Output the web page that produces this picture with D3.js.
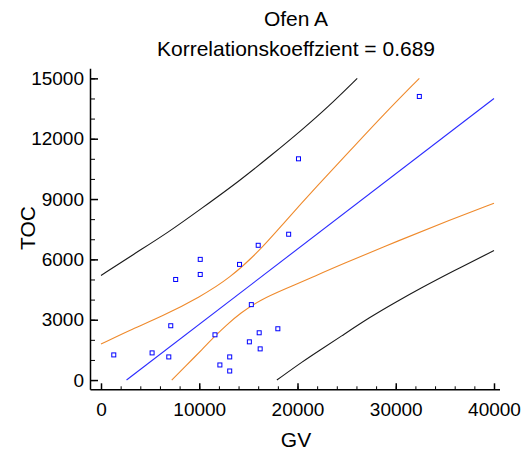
<!DOCTYPE html>
<html>
<head>
<meta charset="utf-8">
<script src="https://cdn.jsdelivr.net/npm/d3@7"></script>
<style>
  body { margin: 0; background: #fff; }
  svg { font-family: "Liberation Sans", Arial, sans-serif; }
  .axis path, .axis line { stroke: #000; }
  .axis text { font-size: 19px; fill: #000; }
</style>
</head>
<body>
<svg width="529" height="454"></svg>
<script>
// Messpunkte (GV, TOC)
var gv  = [1300, 5200, 6900, 7100, 7600, 10100, 10100, 11600, 12100, 13100, 13100,
           14100, 15100, 15300, 16000, 16100, 16200, 18000, 19100, 20100, 32400];
var toc = [1250, 1350, 1150, 2700, 5000, 6000, 5250, 2250, 750, 1150, 450,
           5750, 1900, 3750, 6700, 2350, 1550, 2550, 7250, 11000, 14100];

// Regressionsgerade
var fitLine = [[2600, 0], [40000, 14000]];

// Vertrauensbereich (orange)
var confUpper = [[0, 1790], [3300, 2570], [6000, 3110], [10100, 4140], [13100, 5060],
                 [16200, 6460], [18550, 7780], [21950, 9630], [25350, 11400],
                 [28750, 13190], [32400, 15000]];
var confLower = [[7200, 0], [8550, 660], [10410, 1580], [11600, 2190], [12790, 2740],
                 [14150, 3320], [16180, 3980], [18900, 4560], [21270, 5060], [24330, 5720],
                 [30430, 6960], [35520, 7960], [40000, 8790]];

// Prognosebereich (schwarz)
var predUpper = [[0, 5200], [3460, 6300], [6850, 7340], [10250, 8540], [13980, 9860],
                 [17370, 11190], [20430, 12430], [23140, 13590], [26080, 15000]];
var predLower = [[17900, 0], [20590, 945], [22290, 1490], [24330, 2140], [27380, 3130],
                 [30100, 3900], [32470, 4550], [35860, 5420], [40000, 6440]];

var xTicks = [0, 10000, 20000, 30000, 40000];
var yTicks = [0, 3000, 6000, 9000, 12000, 15000];

var svg = d3.select("svg");

var xScale = d3.scaleLinear().domain([-1120, 40560]).range([90, 499.5]);
var yScale = d3.scaleLinear().domain([-460, 15500]).range([389.3, 68.3]);

// Achsen mit nach innen zeigenden Ticks
svg.append("g")
    .attr("class", "axis")
    .attr("transform", "translate(0," + yScale.range()[0] + ")")
    .call(d3.axisBottom(xScale).tickValues(d3.range(0, 40001, 2000)).tickSize(-3).tickSizeOuter(0).tickFormat(""))
    .call(function(g) { g.select(".domain").attr("stroke-width", 1.5); });

svg.append("g")
    .attr("class", "axis")
    .attr("transform", "translate(0," + yScale.range()[0] + ")")
    .call(d3.axisBottom(xScale).tickValues(xTicks).tickSize(-6).tickSizeOuter(0).tickPadding(13).tickFormat(d3.format("d")))
    .call(function(g) {
        g.select(".domain").remove();
        g.selectAll("line").attr("stroke-width", 1.5);
    });

svg.append("g")
    .attr("class", "axis")
    .attr("transform", "translate(" + xScale.range()[0] + ",0)")
    .call(d3.axisLeft(yScale).tickValues(d3.range(0, 15001, 1000)).tickSize(-5).tickSizeOuter(0).tickFormat(""))
    .call(function(g) { g.select(".domain").attr("stroke-width", 1.5); });

svg.append("g")
    .attr("class", "axis")
    .attr("transform", "translate(" + xScale.range()[0] + ",0)")
    .call(d3.axisLeft(yScale).tickValues(yTicks).tickSize(-8).tickSizeOuter(0).tickPadding(6).tickFormat(d3.format("d")))
    .call(function(g) {
        g.select(".domain").remove();
        g.selectAll("line").attr("stroke-width", 1.5);
    });

var line = d3.line()
    .x(function(d) { return xScale(d[0]); })
    .y(function(d) { return yScale(d[1]); })
    .curve(d3.curveBasis);

var curves = [
    {data: predUpper, color: "#1a1a1a"},
    {data: predLower, color: "#1a1a1a"},
    {data: confUpper, color: "#ef8a2c"},
    {data: confLower, color: "#ef8a2c"},
    {data: fitLine, color: "#2b2bff"}
];

svg.selectAll(".curve")
    .data(curves)
    .enter().append("path")
    .attr("class", "curve")
    .attr("fill", "none")
    .attr("stroke", function(d) { return d.color; })
    .attr("stroke-width", 1.1)
    .attr("d", function(d) { return line(d.data); });

svg.selectAll(".dot")
    .data(gv)
    .enter().append("rect")
    .attr("class", "dot")
    .attr("x", function(d) { return xScale(d) - 2; })
    .attr("y", function(d, i) { return yScale(toc[i]) - 2; })
    .attr("width", 4)
    .attr("height", 4)
    .attr("fill", "#fff")
    .attr("stroke", "#0000ff")
    .attr("stroke-width", 1);

// Titel
svg.append("text")
    .attr("x", 296)
    .attr("y", 26)
    .attr("text-anchor", "middle")
    .style("font-size", "21px")
    .text("Ofen A");

svg.append("text")
    .attr("x", 296)
    .attr("y", 56)
    .attr("text-anchor", "middle")
    .style("font-size", "21px")
    .text("Korrelationskoeffzient = 0.689");

// Achsenbeschriftung
svg.append("text")
    .attr("x", 296)
    .attr("y", 447)
    .attr("text-anchor", "middle")
    .style("font-size", "21px")
    .text("GV");

svg.append("text")
    .attr("transform", "translate(35,228) rotate(-90)")
    .attr("text-anchor", "middle")
    .style("font-size", "21px")
    .text("TOC");
</script>
</body>
</html>
